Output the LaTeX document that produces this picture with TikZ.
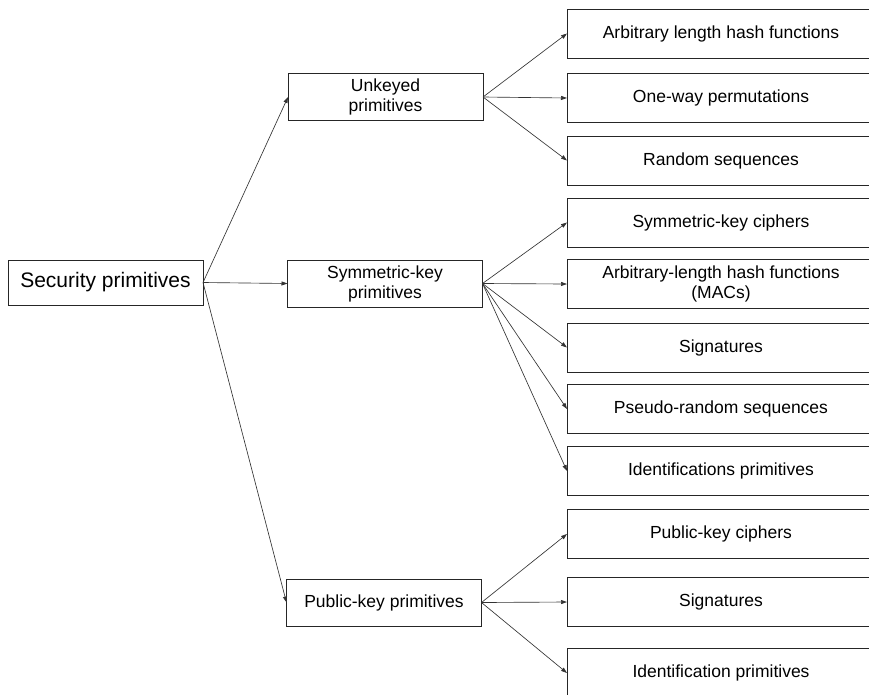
\documentclass[tikz,border=0pt]{standalone}
\usepackage{fontspec}
\setmainfont{Liberation Sans}
\usetikzlibrary{arrows.meta}
\tikzset{
  every node/.style={inner sep=0pt, outer sep=0pt},
  box/.style={draw=black!85, line width=0.9pt, align=center, font=\fontsize{17.5}{20}\selectfont},
  rootbox/.style={box, minimum width=195pt, minimum height=45pt, font=\fontsize{21}{24}\selectfont},
  midbox/.style={box, minimum width=195pt, minimum height=47pt},
  leafbox/.style={box, minimum width=308pt, minimum height=49pt},
  arr/.style={draw=black!80, line width=0.65pt, -{Triangle[length=6pt,width=4pt]}}
}
\begin{document}
\begin{tikzpicture}[x=1pt, y=-1pt]
\useasboundingbox (0,0) rectangle (869,694);

% root
\node[rootbox] (sec) at (105.5,282.5) {Security primitives};

% middle level
\node[midbox] (unk) at (385.5,97) {Unkeyed\\primitives};
\node[midbox] (sym) at (385,283.5) {Symmetric-key\\primitives};
\node[midbox] (pub) at (384,602.5) {Public-key primitives};

% leaves
\node[leafbox] (u1) at (721,33.5) {Arbitrary length hash functions};
\node[leafbox] (u2) at (721,98) {One-way permutations};
\node[leafbox] (u3) at (721,160.5) {Random sequences};
\node[leafbox] (s1) at (721,222.5) {Symmetric-key ciphers};
\node[leafbox] (s2) at (721,284) {Arbitrary-length hash functions\\(MACs)};
\node[leafbox] (s3) at (721,347.5) {Signatures};
\node[leafbox] (s4) at (721,409) {Pseudo-random sequences};
\node[leafbox] (s5) at (721,471) {Identifications primitives};
\node[leafbox] (p1) at (721,534) {Public-key ciphers};
\node[leafbox] (p2) at (721,602) {Signatures};
\node[leafbox] (p3) at (721,673) {Identification primitives};

% connectors
\foreach \m in {unk,sym,pub} \draw[arr] (sec.east) -- (\m.west);
\foreach \l in {u1,u2,u3} \draw[arr] (unk.east) -- (\l.west);
\foreach \l in {s1,s2,s3,s4,s5} \draw[arr] (sym.east) -- (\l.west);
\foreach \l in {p1,p2,p3} \draw[arr] (pub.east) -- (\l.west);
\end{tikzpicture}
\end{document}
